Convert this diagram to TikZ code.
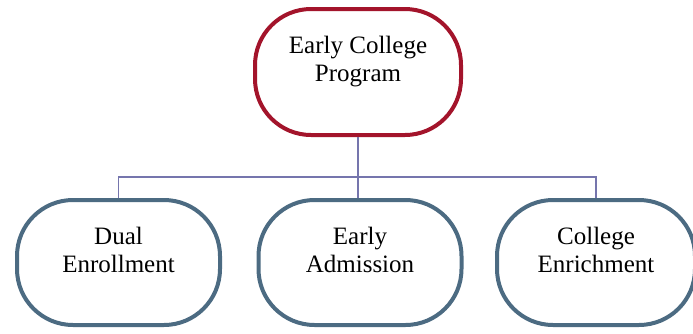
\documentclass[tikz,border=0pt]{standalone}
\usepackage{fontspec}
\setmainfont{Liberation Serif}
\usetikzlibrary{positioning}
\definecolor{mred}{rgb}{0.64, 0.08, 0.17}
\definecolor{mslate}{rgb}{0.30, 0.42, 0.51}
\definecolor{mline}{rgb}{0.46, 0.46, 0.68}
\tikzset{prog/.style = {draw = mred, line width = 4pt, fill = white,
                        rounded corners = 56pt,
                        minimum width = 206pt, minimum height = 126pt},
         path/.style = {draw = mslate, line width = 4pt, fill = white,
                        rounded corners = 56pt,
                        minimum width = 203pt, minimum height = 125pt},
         lbl/.style  = {align = center, inner sep = 0pt, anchor = north,
                        font = \fontsize{25}{27.5}\selectfont},
         link/.style = {draw = mline, line width = 1.5pt}}

\begin{document}
\begin{tikzpicture}[x = 1pt, y = -1pt]
      \useasboundingbox (0, 0) rectangle (693, 333);

      \node [prog] (ecp) at (358, 72) {};
      \node [path] (dual) at (118.5, 262.5) {};
      \node [path] (admit) at (360, 262.5) {};
      \node [path, minimum width = 198pt] (enrich) at (596, 262.5) {};

      \coordinate (bus) at (358, 177);
      \draw [link] (ecp.south) -- (admit.north -| ecp.south);
      \draw [link] (dual.north) |- (bus) -| (enrich.north);

      \node [lbl] (ecptext) at ([yshift = 36pt] ecp.center) {Early College\\Program};
      \node [lbl] (dualtext) at ([yshift = 35.5pt] dual.center) {Dual\\Enrollment};
      \node [lbl] (admittext) at ([yshift = 35.5pt] admit.center) {Early\\Admission};
      \node [lbl] (enrichtext) at ([yshift = 35.5pt] enrich.center) {College\\Enrichment};
    \end{tikzpicture}
\end{document}
